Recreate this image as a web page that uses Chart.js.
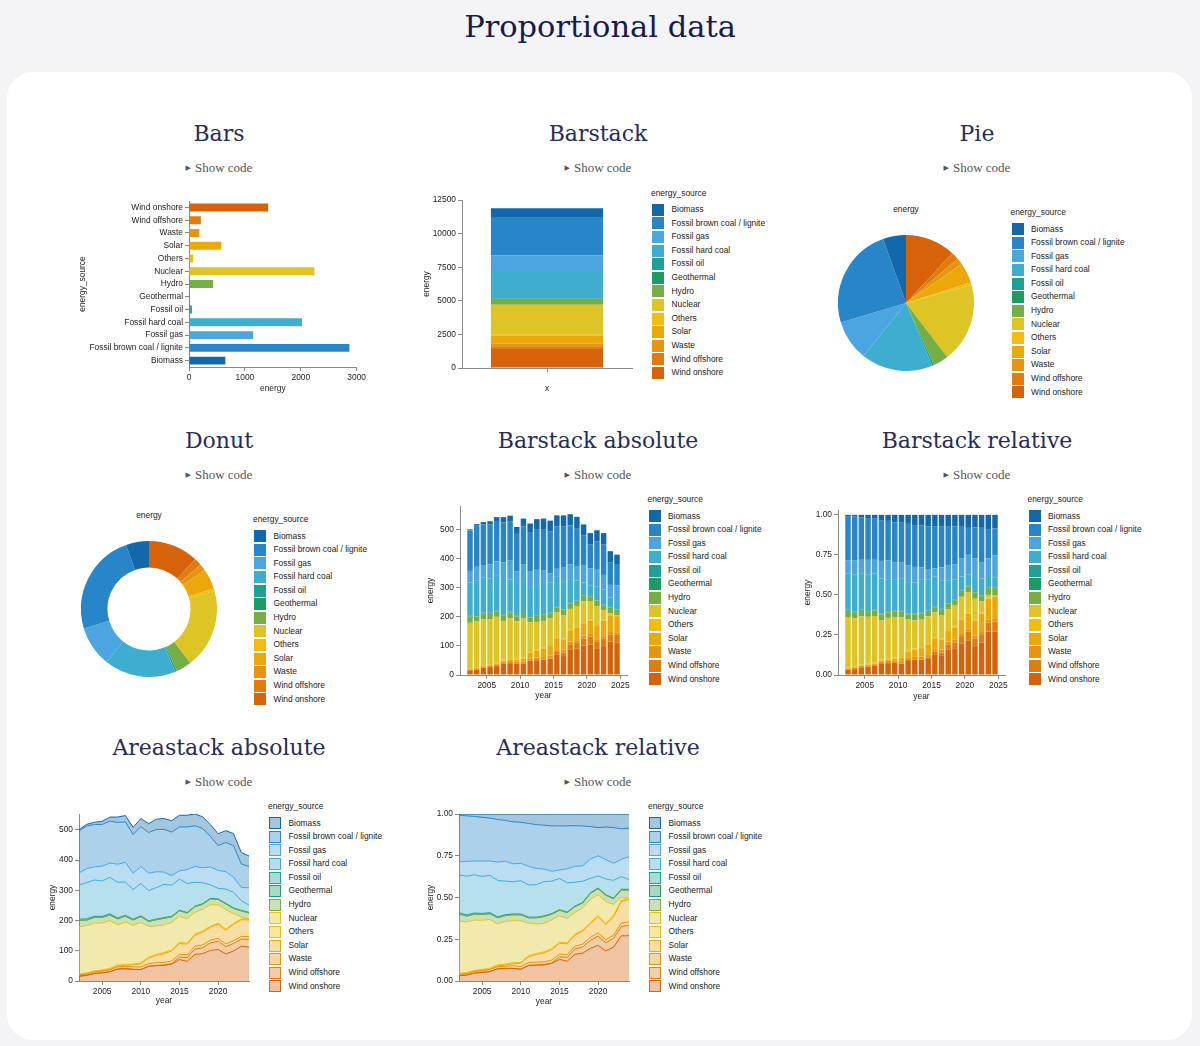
<!DOCTYPE html>
<html>
<head>
<meta charset="utf-8">
<title>Proportional data</title>
<script src="https://cdn.jsdelivr.net/npm/chart.js@4/dist/chart.umd.min.js"></script>
<style>
  html, body { margin: 0; padding: 0; }
  body { width: 1200px; height: 1046px; background: #f4f4f7; position: relative; overflow: hidden; }
  h1 { position: absolute; left: 0; top: 7px; width: 1200px; margin: 0; text-align: center; font: normal 30.5px/40px 'DejaVu Serif', serif; color: #161b4b; }
  .card { position: absolute; left: 7px; top: 72px; width: 1185px; height: 968px; background: #fff; border-radius: 26px; }
  .t { position: absolute; width: 360px; margin-left: -180px; text-align: center; font: 22px/30px 'DejaVu Serif', serif; color: #272c5b; }
  .sc { position: absolute; width: 200px; margin-left: -100px; text-align: center; font: 13px/16px 'Liberation Serif', serif; color: #555; }
  .sc span { font: 7px 'DejaVu Sans', sans-serif; vertical-align: 2px; margin-right: 4px; color: #555; }
  .box { position: absolute; }
  .lg { position: absolute; font: 8.4px 'Liberation Sans', Arial, sans-serif; color: #222; }
  .lg .lt { height: 12px; line-height: 12px; margin-bottom: 4.5px; margin-left: -1px; }
  .lg .li { position: relative; height: 13.6px; line-height: 13.6px; padding-left: 19.5px; white-space: nowrap; }
  .lg .sw { position: absolute; left: 0; top: 0.8px; width: 12px; height: 12px; box-sizing: border-box; border: 1px solid; }
  .lab { position: absolute; width: 80px; margin-left: -40px; text-align: center; font: 8.4px/10px 'Liberation Sans', Arial, sans-serif; color: #222; }
</style>
</head>
<body>
<h1>Proportional data</h1>
<div class="card"></div>

<div class="t" style="left:219px;top:119px">Bars</div>
<div class="sc" style="left:219px;top:160px"><span>▶</span>Show code</div>
<div class="t" style="left:598px;top:119px">Barstack</div>
<div class="sc" style="left:598px;top:160px"><span>▶</span>Show code</div>
<div class="t" style="left:977px;top:119px">Pie</div>
<div class="sc" style="left:977px;top:160px"><span>▶</span>Show code</div>

<div class="t" style="left:219px;top:426px">Donut</div>
<div class="sc" style="left:219px;top:467px"><span>▶</span>Show code</div>
<div class="t" style="left:598px;top:426px">Barstack absolute</div>
<div class="sc" style="left:598px;top:467px"><span>▶</span>Show code</div>
<div class="t" style="left:977px;top:426px">Barstack relative</div>
<div class="sc" style="left:977px;top:467px"><span>▶</span>Show code</div>

<div class="t" style="left:219px;top:733px">Areastack absolute</div>
<div class="sc" style="left:219px;top:774px"><span>▶</span>Show code</div>
<div class="t" style="left:598px;top:733px">Areastack relative</div>
<div class="sc" style="left:598px;top:774px"><span>▶</span>Show code</div>

<div class="box" style="left:76px;top:194px;width:292px;height:202px"><canvas id="bars"></canvas></div>
<div class="box" style="left:420px;top:193px;width:222px;height:203px"><canvas id="barstack"></canvas></div>
<div class="box" style="left:838px;top:235px;width:136px;height:136px"><canvas id="pie"></canvas></div>
<div class="lab" style="left:906px;top:204px">energy</div>

<div class="box" style="left:81px;top:541px;width:136px;height:136px"><canvas id="donut"></canvas></div>
<div class="lab" style="left:149px;top:510px">energy</div>
<div class="box" style="left:424px;top:499px;width:213px;height:204px"><canvas id="barAbs"></canvas></div>
<div class="box" style="left:801px;top:503px;width:214px;height:201px"><canvas id="barRel"></canvas></div>

<div class="box" style="left:46px;top:807px;width:213px;height:201px"><canvas id="areaAbs"></canvas></div>
<div class="box" style="left:424px;top:807px;width:215px;height:202px"><canvas id="areaRel"></canvas></div>

<script>
// yearly generation per source
const years = [2002, 2003, 2004, 2005, 2006, 2007, 2008, 2009, 2010, 2011, 2012, 2013,
               2014, 2015, 2016, 2017, 2018, 2019, 2020, 2021, 2022, 2023, 2024];

const sources = ['Biomass', 'Fossil brown coal / lignite', 'Fossil gas', 'Fossil hard coal',
                 'Fossil oil', 'Geothermal', 'Hydro', 'Nuclear', 'Others', 'Solar', 'Waste',
                 'Wind offshore', 'Wind onshore'];

const colors = ['#1268aa', '#2886c8', '#4aa5e0', '#3eaed0', '#1ea096', '#1c9c64', '#74ae44',
                '#dec424', '#f4bc0e', '#eca80a', '#e8940e', '#e07c0c', '#d8620a'];

const biomass      = [3.8, 5.7, 7.5, 10.4, 13.2, 17.9, 20.7, 23.6, 26.4, 29.2, 34.0, 35.8, 37.7, 38.7, 38.7, 38.7, 38.7, 38.7, 39.6, 38.7, 39.6, 37.7, 34.9];
const brownCoal    = [139, 141, 140, 138, 139, 138, 134, 128, 132, 134, 140, 141, 144, 145, 141, 134, 130, 101, 82, 97, 104, 78, 70];
const fossilGas    = [39.7, 46.0, 43.6, 48.9, 46.9, 59.8, 65.0, 54.3, 56.2, 57.8, 52.3, 40.9, 31.4, 27.5, 45.9, 52.8, 49.9, 59.2, 59.2, 57.5, 49.9, 43.8, 57.3];
const hardCoal     = [113, 120, 120, 117, 121, 118, 110, 98, 107, 100, 104, 110, 103, 103, 96, 79, 69, 45, 35, 47, 52, 32, 24];
const fossilOil    = [4, 4, 3.5, 3.5, 3.5, 3, 3, 2.5, 2.5, 2, 2, 2, 1.5, 1.5, 1.5, 1.5, 1.5, 1.5, 1.5, 1.5, 1.5, 1.5, 1.5];
const geothermal   = [0, 0, 0, 0, 0, 0, 0, 0, 0, 0, 0.03, 0.05, 0.1, 0.13, 0.17, 0.16, 0.18, 0.2, 0.23, 0.25, 0.2, 0.2, 0.2];
const hydro        = [21.5, 17.8, 18.8, 18.3, 18.7, 19.7, 19.2, 17.9, 19.6, 16.6, 20.5, 21.6, 18.4, 17.9, 19.3, 18.9, 16.6, 19.0, 17.6, 18.5, 16.4, 19.3, 20.4];
const nuclear      = [156, 157, 158, 155, 158, 133, 140, 128, 133, 102, 94, 92, 91, 87, 80, 72, 72, 71, 61, 65, 33, 7, 0];
const others       = [3, 3, 3, 3, 3, 3, 3, 3, 3, 3, 3.5, 3.5, 3.5, 3.5, 3.5, 3.5, 3.5, 3.5, 3.5, 3.5, 3.5, 3, 3];
const solar        = [0.2, 0.3, 0.6, 1.2, 2.0, 2.9, 4.0, 6.1, 10.8, 18.0, 24.3, 28.5, 33.1, 35.6, 35.1, 36.2, 42.1, 42.7, 46.6, 45.1, 53.4, 55.0, 55.0];
const waste        = [4, 4.5, 5, 5.5, 6, 7, 7.5, 8, 8.5, 8.5, 9, 9, 9, 9, 9.5, 9.5, 9.5, 9.5, 9.5, 9.5, 9.5, 9, 9];
const windOffshore = [0, 0, 0, 0, 0, 0, 0, 0.04, 0.2, 0.6, 0.7, 0.9, 1.4, 8.3, 12.3, 17.7, 19.5, 24.7, 27.3, 24.0, 25.0, 23.5, 25.7];
const windOnshore  = [15.8, 18.7, 25.0, 27.2, 30.7, 39.7, 40.6, 38.6, 37.8, 48.3, 50.7, 51.8, 55.9, 70.9, 65.0, 88.0, 90.5, 101.0, 104.0, 89.5, 99.0, 115.0, 112.0];

const series = [biomass, brownCoal, fossilGas, hardCoal, fossilOil, geothermal, hydro,
                nuclear, others, solar, waste, windOffshore, windOnshore];

const yearTicks = [2005, 2010, 2015, 2020, 2025];

// aggregates used by the summary charts
const sourceTotals = series.map(s => s.reduce((a, b) => a + b, 0));
const yearTotals = years.map((_, k) => series.reduce((a, s) => a + s[k], 0));
// stacks are drawn from the last source (bottom) up to the first (top)
const stackOrder = sources.map((_, i) => sources.length - 1 - i);

const AXIS = '#888';
const TXT = '#222';
const FS = 8.4;

Chart.defaults.font.family = "'Liberation Sans', Arial, sans-serif";
Chart.defaults.font.size = FS;
Chart.defaults.color = TXT;
Chart.defaults.animation = false;
Chart.defaults.maintainAspectRatio = false;
Chart.defaults.plugins.legend.display = false;
Chart.defaults.plugins.tooltip.enabled = false;

function fade(hex, a) {
    const n = parseInt(hex.slice(1), 16);
    return `rgba(${n >> 16}, ${(n >> 8) & 255}, ${n & 255}, ${a})`;
}

function axis(o) {
    const a = {
        type: o.type || 'linear',
        position: o.position,
        reverse: !!o.reverse,
        stacked: !!o.stacked,
        offset: !!o.offset,
        grid: { display: true, drawOnChartArea: false, drawTicks: true, tickLength: 4, color: AXIS, offset: false },
        border: { display: true, color: AXIS },
        ticks: { padding: 2, color: TXT, font: { size: FS }, autoSkip: false, maxRotation: 0, includeBounds: false },
        title: { display: !!o.title, text: o.title, color: TXT, font: { size: FS }, padding: { top: 2, bottom: 2 } },
        afterFit: s => {
            if (o.position === 'left') s.width = o.size;
            else s.height = o.size;
        }
    };
    if (o.min !== undefined) a.min = o.min;
    if (o.max !== undefined) a.max = o.max;
    if (o.step) a.ticks.stepSize = o.step;
    if (o.fmt) a.ticks.callback = o.fmt;
    if (o.tickValues) {
        a.afterBuildTicks = s => {
            s.ticks = o.tickValues.filter(v => v >= o.min && v <= o.max).map(v => ({ value: v }));
        };
    }
    return a;
}

const pad = { top: 6, right: 10, left: 0, bottom: 0 };
const plain = v => String(v);
const twoDec = v => v.toFixed(2);

function legend(left, top, light) {
    const div = document.createElement('div');
    div.className = 'lg';
    div.style.left = left + 'px';
    div.style.top = top + 'px';
    let html = '<div class="lt">energy_source</div>';
    sources.forEach((s, i) => {
        const fill = light ? fade(colors[i], 0.38) : colors[i];
        html += `<div class="li"><span class="sw" style="background:${fill};border-color:${colors[i]}"></span>${s}</div>`;
    });
    div.innerHTML = html;
    document.body.appendChild(div);
}

// Bars
new Chart(document.getElementById('bars'), {
    type: 'bar',
    data: {
        labels: sources,
        datasets: [{ data: sourceTotals, backgroundColor: colors, barPercentage: 0.62, categoryPercentage: 1 }]
    },
    options: {
        indexAxis: 'y',
        layout: { padding: pad },
        scales: {
            x: axis({ position: 'bottom', min: 0, max: 3000, step: 1000, title: 'energy', size: 29, fmt: plain }),
            y: axis({ type: 'category', position: 'left', reverse: true, offset: true, title: 'energy_source', size: 113 })
        }
    }
});

// Barstack
new Chart(document.getElementById('barstack'), {
    type: 'bar',
    data: {
        labels: [''],
        datasets: stackOrder.map(i => ({
            label: sources[i], data: [sourceTotals[i]], backgroundColor: colors[i],
            barPercentage: 0.66, categoryPercentage: 1
        }))
    },
    options: {
        layout: { padding: pad },
        scales: {
            x: axis({ type: 'category', position: 'bottom', stacked: true, offset: true, title: 'x', size: 28 }),
            y: axis({ position: 'left', stacked: true, min: 0, max: 12500, step: 2500, title: 'energy', size: 42, fmt: plain })
        }
    }
});
legend(652, 186.5, false);

// Pie and donut
function round(id, type) {
    new Chart(document.getElementById(id), {
        type: type,
        data: {
            labels: stackOrder.map(i => sources[i]),
            datasets: [{
                data: stackOrder.map(i => sourceTotals[i]),
                backgroundColor: stackOrder.map(i => colors[i]),
                borderWidth: 0
            }]
        },
        options: { layout: { padding: 0 }, cutout: type === 'doughnut' ? '61%' : 0 }
    });
}
round('pie', 'pie');
legend(1011.5, 206, false);
round('donut', 'doughnut');
legend(254, 513, false);

// Stacked bars per year
function yearBars(id, rel, yMax, step, fmt, ySize, xSize) {
    new Chart(document.getElementById(id), {
        type: 'bar',
        data: {
            datasets: stackOrder.map(i => ({
                label: sources[i],
                data: years.map((yr, k) => ({ x: yr + 0.5, y: rel ? series[i][k] / yearTotals[k] : series[i][k] })),
                backgroundColor: colors[i],
                barPercentage: 0.82,
                categoryPercentage: 1
            }))
        },
        options: {
            layout: { padding: pad },
            scales: {
                x: axis({ position: 'bottom', stacked: true, min: 2001, max: 2026, tickValues: yearTicks, title: 'year', size: xSize, fmt: plain }),
                y: axis({ position: 'left', stacked: true, min: 0, max: yMax, step: step, title: 'energy', size: ySize, fmt: fmt })
            }
        }
    });
}
yearBars('barAbs', false, 580, 100, plain, 36, 28);
legend(648.5, 493, false);
yearBars('barRel', true, 1.03, 0.25, twoDec, 37, 29);
legend(1028.5, 493, false);

// Stacked areas per year
function yearAreas(id, rel, yMax, step, fmt, ySize, xSize) {
    new Chart(document.getElementById(id), {
        type: 'line',
        data: {
            datasets: stackOrder.map((i, n) => ({
                label: sources[i],
                data: years.map((yr, k) => ({ x: yr, y: rel ? series[i][k] / yearTotals[k] : series[i][k] })),
                borderColor: colors[i],
                backgroundColor: fade(colors[i], 0.38),
                borderWidth: 1,
                pointRadius: 0,
                tension: 0,
                fill: n === 0 ? 'origin' : '-1'
            }))
        },
        options: {
            layout: { padding: pad },
            scales: {
                x: axis({ position: 'bottom', min: 2002, max: 2024, tickValues: yearTicks, title: 'year', size: xSize, fmt: plain }),
                y: axis({ position: 'left', stacked: true, min: 0, max: yMax, step: step, title: 'energy', size: ySize, fmt: fmt })
            }
        }
    });
}
yearAreas('areaAbs', false, 552, 100, plain, 33, 27);
legend(269, 800, true);
yearAreas('areaRel', true, 1, 0.25, twoDec, 35, 28);
legend(649, 800, true);
</script>
</body>
</html>
